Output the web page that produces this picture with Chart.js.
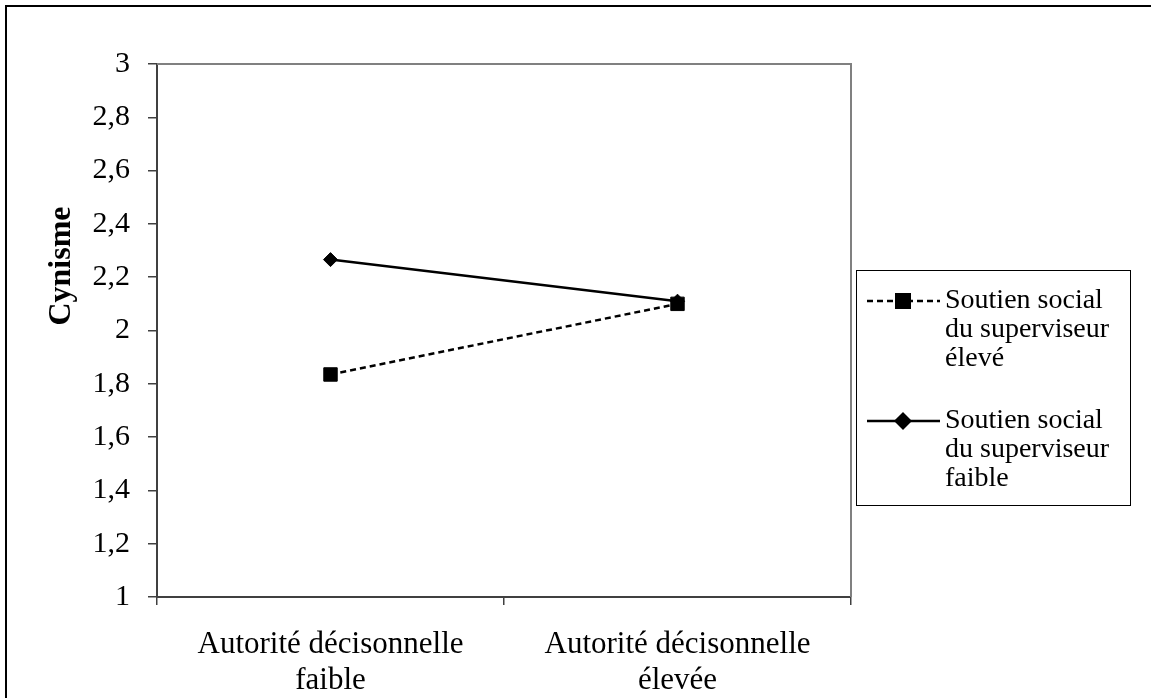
<!DOCTYPE html>
<html lang="fr">
<head>
<meta charset="utf-8">
<title>Cynisme</title>
<script src="https://cdn.jsdelivr.net/npm/chart.js@4/dist/chart.umd.min.js"></script>
<style>
  html, body { margin: 0; padding: 0; background: #ffffff; }
  #wrap { width: 1151px; height: 698px; }
</style>
</head>
<body>
<div id="wrap"><canvas id="chart" width="1151" height="698"></canvas></div>
<script>
// Categories (x axis, two-line labels)
const categories = [
  ['Autorité décisonnelle', 'faible'],
  ['Autorité décisonnelle', 'élevée']
];

// Series values
const soutienEleve = [1.835, 2.10];
const soutienFaible = [2.266, 2.11];

// Legend labels (one entry per line)
const legendEleve = ['Soutien social', 'du superviseur', 'élevé'];
const legendFaible = ['Soutien social', 'du superviseur', 'faible'];

// Y axis
const yMin = 1;
const yMax = 3;
const yStep = 0.2;
const yTitle = 'Cynisme';

const SERIF = '"Liberation Serif", "Times New Roman", serif';

function formatTick(v) {
  return String(Number(v.toFixed(1))).replace('.', ',');
}

// Frame, axis title and boxed legend
const decorations = {
  id: 'decorations',
  afterDraw(chart) {
    const ctx = chart.ctx;
    const area = chart.chartArea;
    ctx.save();

    // outer border
    ctx.strokeStyle = '#000000';
    ctx.lineWidth = 2;
    ctx.strokeRect(6, 6, 1200, 760);

    // top and right edges of the plot area
    ctx.strokeStyle = '#808080';
    ctx.lineWidth = 2;
    ctx.beginPath();
    ctx.moveTo(area.left, area.top);
    ctx.lineTo(area.right, area.top);
    ctx.lineTo(area.right, area.bottom);
    ctx.stroke();

    // y axis title
    ctx.fillStyle = '#000000';
    ctx.font = 'bold 32px ' + SERIF;
    ctx.textAlign = 'center';
    ctx.textBaseline = 'alphabetic';
    ctx.translate(70, 266);
    ctx.rotate(-Math.PI / 2);
    ctx.fillText(yTitle, 0, 0);
    ctx.setTransform(1, 0, 0, 1, 0, 0);

    // legend box
    const box = { left: 856, top: 270, right: 1130, bottom: 505 };
    ctx.strokeStyle = '#000000';
    ctx.lineWidth = 1;
    ctx.strokeRect(box.left + 0.5, box.top + 0.5, box.right - box.left, box.bottom - box.top);

    const entries = [
      { lines: legendEleve, ds: chart.data.datasets[0], y: 301 },
      { lines: legendFaible, ds: chart.data.datasets[1], y: 421 }
    ];
    const lineH = 29;
    entries.forEach(e => {
      const ds = e.ds;
      ctx.strokeStyle = ds.borderColor;
      ctx.lineWidth = ds.borderWidth;
      ctx.setLineDash(ds.borderDash || []);
      ctx.beginPath();
      ctx.moveTo(867, e.y);
      ctx.lineTo(940, e.y);
      ctx.stroke();
      ctx.setLineDash([]);
      Chart.helpers.drawPoint(ctx, {
        pointStyle: ds.pointStyle,
        radius: ds.pointRadius,
        borderWidth: 1,
        rotation: 0
      }, 903, e.y);
      ctx.fillStyle = ds.pointBackgroundColor;
      ctx.strokeStyle = ds.pointBorderColor;
      ctx.fill();
      ctx.stroke();

      ctx.fillStyle = '#000000';
      ctx.font = '28px ' + SERIF;
      ctx.textAlign = 'left';
      ctx.textBaseline = 'middle';
      e.lines.forEach((t, i) => ctx.fillText(t, 945, e.y + i * lineH));
    });

    ctx.restore();
  }
};

new Chart(document.getElementById('chart'), {
  type: 'line',
  data: {
    labels: categories,
    datasets: [
      {
        label: legendEleve.join(' '),
        data: soutienEleve,
        borderColor: '#000000',
        borderWidth: 2.5,
        borderDash: [6, 4],
        pointStyle: 'rect',
        pointRadius: 9.5,
        pointBackgroundColor: '#000000',
        pointBorderColor: '#000000',
        pointBorderWidth: 1,
        fill: false,
        tension: 0
      },
      {
        label: legendFaible.join(' '),
        data: soutienFaible,
        borderColor: '#000000',
        borderWidth: 2.5,
        pointStyle: 'rectRot',
        pointRadius: 7,
        pointBackgroundColor: '#000000',
        pointBorderColor: '#000000',
        pointBorderWidth: 1,
        fill: false,
        tension: 0
      }
    ]
  },
  options: {
    responsive: false,
    animation: false,
    devicePixelRatio: 1,
    layout: { padding: { left: 0, top: 64, right: 300, bottom: 0 } },
    plugins: {
      legend: { display: false },
      tooltip: { enabled: false }
    },
    scales: {
      x: {
        type: 'category',
        offset: true,
        afterFit(scale) { scale.height = 101; },
        border: { display: true, color: '#404040', width: 2 },
        grid: {
          display: true,
          offset: true,
          drawOnChartArea: false,
          drawTicks: true,
          tickLength: 8,
          color: '#404040',
          lineWidth: 1.5
        },
        ticks: {
          color: '#000000',
          padding: 22,
          maxRotation: 0,
          autoSkip: false,
          font: { family: SERIF, size: 31, lineHeight: 1.16 }
        }
      },
      y: {
        min: yMin,
        max: yMax,
        afterFit(scale) { scale.width = 157; },
        border: { display: true, color: '#404040', width: 2 },
        grid: {
          display: true,
          drawOnChartArea: false,
          drawTicks: true,
          tickLength: 9,
          color: '#404040',
          lineWidth: 1.5
        },
        ticks: {
          stepSize: yStep,
          color: '#000000',
          padding: 18,
          font: { family: SERIF, size: 30 },
          callback: (v) => formatTick(v)
        }
      }
    }
  },
  plugins: [decorations]
});
</script>
</body>
</html>
